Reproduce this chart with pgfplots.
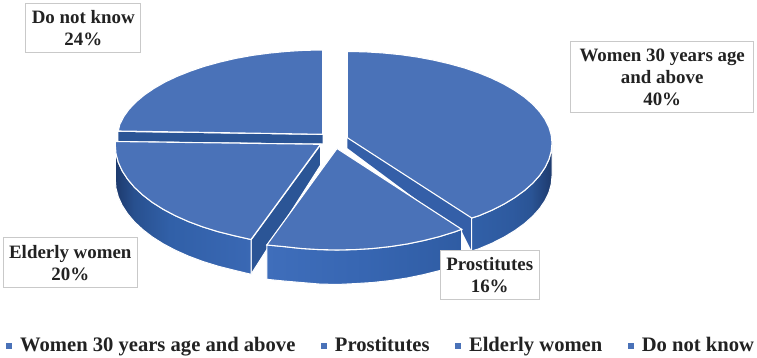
\documentclass[border=0pt]{standalone}
\usepackage{pgfplots}
\pgfplotsset{compat=1.18}
\usepackage{fontspec}
\setmainfont{Liberation Serif}
\definecolor{topblue}{HTML}{4A72B8}
\definecolor{bandA}{HTML}{2B5596}
\definecolor{bandB}{HTML}{345FA8}
\definecolor{txt}{HTML}{222222}
\definecolor{boxc}{HTML}{C9C9C9}
\definecolor{HL1}{HTML}{1D3A6D}\definecolor{HL2}{HTML}{28508F}\definecolor{HL3}{HTML}{3160A8}\definecolor{HL4}{HTML}{3A68B4}
\definecolor{HM1}{HTML}{3F6EBB}\definecolor{HM2}{HTML}{3766B2}\definecolor{HM3}{HTML}{2F5CA3}
\definecolor{HR1}{HTML}{3160A8}\definecolor{HR2}{HTML}{2E5A9F}\definecolor{HR3}{HTML}{2A5495}\definecolor{HR4}{HTML}{1E3A6C}
\pgfdeclarehorizontalshading{sideL}{100bp}{color(0bp)=(HL1);color(25bp)=(HL1);color(32bp)=(HL2);color(45bp)=(HL3);color(75bp)=(HL4);color(100bp)=(HL4)}
\pgfdeclarehorizontalshading{sideM}{100bp}{color(0bp)=(HM1);color(25bp)=(HM1);color(50bp)=(HM2);color(75bp)=(HM3);color(100bp)=(HM3)}
\pgfdeclarehorizontalshading{sideR}{100bp}{color(0bp)=(HR1);color(25bp)=(HR1);color(50bp)=(HR2);color(62bp)=(HR3);color(75bp)=(HR4);color(100bp)=(HR4)}
\begin{document}
\begin{tikzpicture}[x=1pt,y=1pt]
\path[use as bounding box] (0,0) rectangle (757,358);
\begin{axis}[
  at={(0,0)},anchor=south west,
  scale only axis,width=757pt,height=358pt,
  xmin=0,xmax=757,ymin=0,ymax=358,y dir=reverse,
  hide axis,clip=false,
  legend columns=4,
  legend style={at={(axis cs:6,345.5)},anchor=west,draw=none,fill=none,
    inner sep=0pt,column sep=8pt,nodes={inner sep=0pt,anchor=west},
    font=\fontsize{20.6}{24}\selectfont\bfseries\color{txt},
    /tikz/every even column/.append style={column sep=25.5pt}},
  sq/.style={legend image code/.code={\path[draw=none,fill=topblue] (0pt,-3pt) rectangle (6pt,3pt);}},
  face/.style={fill=topblue,draw=white,line width=1.1pt,forget plot},
  cut/.style={draw=white,line width=1pt,forget plot},
]
\addlegendimage{sq,draw=none}\addlegendentry{Women 30 years age and above}
\addlegendimage{sq,draw=none}\addlegendentry{Prostitutes}
\addlegendimage{sq,draw=none}\addlegendentry{Elderly women}
\addlegendimage{sq,draw=none}\addlegendentry{Do not know}

% Do not know 24%: band, top
\addplot[fill=bandA,draw=none,forget plot] coordinates {(118.3,132) (322.7,135) (322.7,143.5) (118.3,141)} -- cycle;
\addplot[face] coordinates {(322.7,50) (304.7,50.3) (286.9,51.4) (269.4,53.1) (252.2,55.4) (235.6,58.4) (219.7,62.1) (204.5,66.3) (190.3,71.1) (177,76.4) (164.9,82.1) (154,88.4) (144.3,95) (136,102) (129.1,109.2) (123.7,116.7) (119.8,124.4) (118.3,131) (322.7,134.3)} -- cycle;

% Women 40%: cut face, side, top
\addplot[fill=bandB,draw=none,forget plot] coordinates {(347.3,137.7) (471.7,218) (471.7,251) (461.7,231) (430,209.5) (347.3,148)} -- cycle;
\addplot[shade,shading=sideR,cut] coordinates {(552,143) (551.2,151.3) (548.9,159.5) (545,167.6) (539.6,175.5) (532.8,183.1) (524.5,190.5) (514.9,197.5) (504,204.1) (492,210.2) (478.8,215.8) (471.7,218) (471.7,251) (478.8,248.8) (492,243.2) (504,237.1) (514.9,230.5) (524.5,223.5) (532.8,216.1) (539.6,208.5) (545,200.6) (548.9,192.5) (551.2,184.3) (552,176)} -- cycle;
\addplot[face] coordinates {(347.3,51.5) (364.9,51.8) (382.6,52.9) (400.1,54.6) (417.1,57) (433.6,60.1) (449.5,63.8) (464.6,68) (478.8,72.9) (492,78.3) (504,84.2) (514.9,90.5) (524.5,97.2) (532.8,104.3) (539.6,111.7) (545,119.3) (548.9,127.1) (551.2,135) (552,143) (551.2,151.3) (548.9,159.5) (545,167.6) (539.6,175.5) (532.8,183.1) (524.5,190.5) (514.9,197.5) (504,204.1) (492,210.2) (478.8,215.8) (471.7,218) (347.3,137.7)} -- cycle;

% Elderly women 20%: cut face, side, top
\addplot[cut,fill=bandA] coordinates {(320.5,145) (251,240) (251,274.3) (320.7,165)} -- cycle;
\addplot[shade,shading=sideL,cut] coordinates {(115.3,145) (116,153.7) (118.3,162.4) (122.2,170.9) (127.6,179.2) (134.4,187.3) (142.7,195) (152.3,202.4) (163.2,209.3) (175.3,215.7) (188.5,221.6) (202.7,226.9) (217.8,231.6) (233.7,235.6) (251,239.5) (251,274.3) (233.7,270.1) (217.8,266.1) (202.7,261.4) (188.5,256.1) (175.3,250.2) (163.2,243.8) (152.3,236.9) (142.7,229.5) (134.4,221.8) (127.6,213.7) (122.2,205.4) (118.3,196.9) (116,188.2) (115.3,179.5)} -- cycle;
\addplot[face] coordinates {(115.3,141.5) (115.3,145) (116,153.7) (118.3,162.4) (122.2,170.9) (127.6,179.2) (134.4,187.3) (142.7,195) (152.3,202.4) (163.2,209.3) (175.3,215.7) (188.5,221.6) (202.7,226.9) (217.8,231.6) (233.7,235.6) (251,239.5) (320.5,144.3)} -- cycle;

% Prostitutes 16%: side, top
\addplot[shade,shading=sideM,cut] coordinates {(266.8,245) (283.9,246.6) (301.4,248.5) (319.1,249.6) (337,250) (354.9,249.6) (372.6,248.5) (390.1,246.6) (407.1,244) (423.6,240.6) (439.5,236.6) (454.6,231.9) (461.7,229.3) (461.7,263.3) (454.6,265.9) (439.5,270.6) (423.6,274.6) (407.1,278) (390.1,280.6) (372.6,282.5) (354.9,283.6) (337,284.5) (319.1,284) (301.4,282.5) (283.9,281) (266.8,279.3)} -- cycle;
\addplot[face] coordinates {(337,148.5) (461.7,229.3) (454.6,231.9) (439.5,236.6) (423.6,240.6) (407.1,244) (390.1,246.6) (372.6,248.5) (354.9,249.6) (337,250) (319.1,249.6) (301.4,248.5) (283.9,246.6) (266.8,245)} -- cycle;

% Data labels
\tikzset{lab/.style={draw=boxc,fill=white,line width=1pt,inner sep=0pt,align=center,text=txt,
  font=\fontsize{18.9}{22}\selectfont\bfseries}}
\node[lab,minimum width=114.7pt,minimum height=49.4pt] at (axis cs:83.3,28) {Do not know\\24\%};
\node[lab,minimum width=183pt,minimum height=71pt] at (axis cs:662.2,77.2) {Women 30 years age\\and above\\40\%};
\node[lab,minimum width=134pt,minimum height=50pt] at (axis cs:70.3,262.7) {Elderly women\\20\%};
\node[lab,minimum width=99.3pt,minimum height=49.3pt] at (axis cs:489.7,274.7) {Prostitutes\\16\%};
\end{axis}
\end{tikzpicture}
\end{document}
